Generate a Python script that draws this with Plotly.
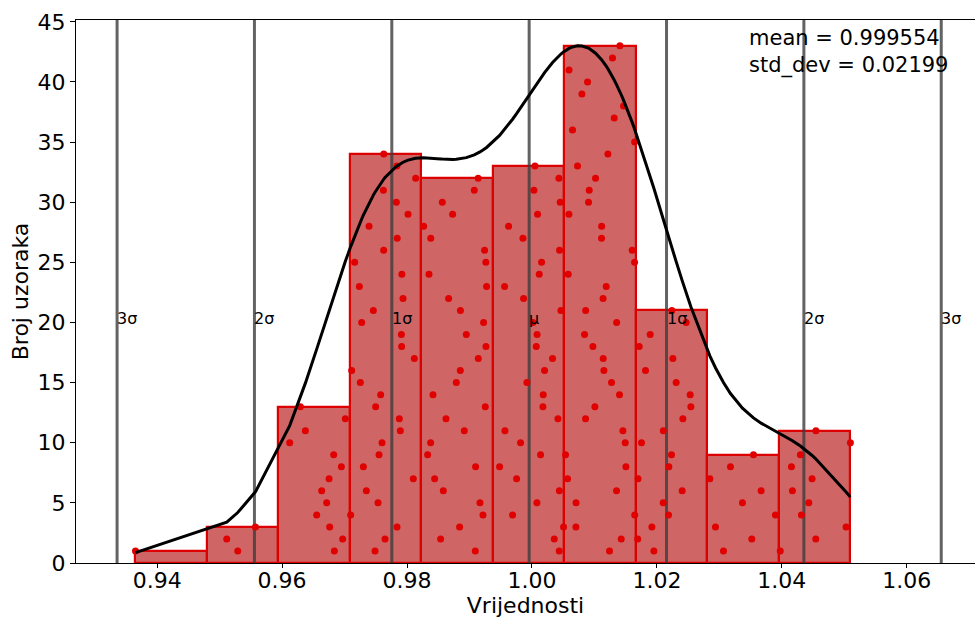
import numpy as np
import plotly.graph_objects as go

# Summary statistics shown on the chart
MEAN = 0.999554
STD_DEV = 0.02199
N_BINS = 10

# Sample values grouped by histogram bin, listed by their dot level (1, 2, 3, ...)
bin01 = [0.93653]
bin02 = [0.95290, 0.95114, 0.95573]
bin03 = [0.96837, 0.96970, 0.96762, 0.96554, 0.96714, 0.96634, 0.96752, 0.96949,
         0.96826, 0.96122, 0.96373, 0.97013, 0.96293]
bin04 = [0.97488, 0.97648, 0.97840, 0.97098, 0.97536, 0.97349, 0.98101, 0.97301,
         0.97552, 0.97600, 0.97893, 0.97877, 0.97498, 0.97578, 0.97253, 0.97114,
         0.98117, 0.97914, 0.97910, 0.97274, 0.97461, 0.97936, 0.97237, 0.97918,
         0.97162, 0.97626, 0.97843, 0.97392, 0.98016, 0.97829, 0.97622, 0.98138,
         0.97838, 0.97628]
bin05 = [0.99093, 0.98538, 0.98842, 0.99216, 0.99168, 0.98581, 0.98442, 0.99098,
         0.98330, 0.98378, 0.98917, 0.98624, 0.99253, 0.98416, 0.98789, 0.98853,
         0.99141, 0.99264, 0.98949, 0.99226, 0.98855, 0.98666, 0.99274, 0.98352,
         0.99262, 0.99242, 0.98380, 0.98266, 0.98730, 0.98565, 0.99077, 0.99139]
bin06 = [1.00437, 1.00357, 1.00506, 0.99690, 1.00080, 1.00439, 0.99754, 0.99482,
         1.00138, 0.99818, 0.99568, 1.00416, 1.00176, 1.00181, 0.99920, 1.00202,
         1.00330, 1.00069, 1.00082, 1.00016, 1.00464, 0.99866, 0.99562, 1.00117,
         1.00154, 1.00442, 0.99856, 0.99626, 1.00090, 1.00453, 1.00032, 1.00432,
         1.00048]
bin07 = [1.01242, 1.01429, 1.00704, 1.01645, 1.00706, 1.01354, 1.00570, 1.01504,
         1.00538, 1.01493, 1.01456, 1.00858, 1.01008, 1.01402, 1.01274, 1.01152,
         1.01141, 1.00976, 1.00842, 1.01356, 1.00860, 1.01139, 1.01189, 1.00581,
         1.01643, 1.01605, 1.01114, 1.01116, 1.00592, 1.00906, 1.00917, 1.01018,
         1.00730, 1.01216, 1.01644, 1.00650, 1.01317, 1.01466, 1.00800, 1.00890,
         1.00594, 1.01290, 1.01408]
bin08 = [1.01952, 1.01693, 1.01920, 1.02186, 1.02101, 1.02405, 1.01698, 1.02192,
         1.02234, 1.01754, 1.02103, 1.02416, 1.02544, 1.02533, 1.02309, 1.01818,
         1.02256, 1.01717, 1.01893, 1.02469, 1.02240]
bin09 = [1.03066, 1.03520, 1.02938, 1.03898, 1.03370, 1.03669, 1.02848, 1.03178,
         1.03546]
bin10 = [1.03975, 1.04544, 1.05029, 1.04314, 1.04432, 1.04170, 1.04485, 1.04154,
         1.04298, 1.05098, 1.04546]

groups = [bin01, bin02, bin03, bin04, bin05, bin06, bin07, bin08, bin09, bin10]

SIGMA_LABELS = ["3σ", "2σ", "1σ", "μ", "1σ", "2σ", "3σ"]
SIGMA_MULTS = [-3, -2, -1, 0, 1, 2, 3]
X_TICKS = [0.94, 0.96, 0.98, 1.00, 1.02, 1.04, 1.06]
Y_TICKS = [0, 5, 10, 15, 20, 25, 30, 35, 40, 45]

# Flatten samples and their dot levels
dot_x, dot_y = [], []
for grp in groups:
    for level, v in enumerate(grp, start=1):
        dot_x.append(v)
        dot_y.append(level)
samples = np.array(dot_x)
n = samples.size

# Histogram
counts, edges = np.histogram(samples, bins=N_BINS)
width = edges[1] - edges[0]
centers = 0.5 * (edges[:-1] + edges[1:])

# Gaussian KDE (Scott's rule), evaluated at the sorted samples,
# rescaled so its peak equals the tallest bin
bw = samples.std(ddof=1) * n ** (-1 / 5)
xs = np.sort(samples)
dens = np.exp(-0.5 * ((xs[:, None] - samples[None, :]) / bw) ** 2).sum(axis=1)
kde_y = dens / dens.max() * counts.max()

FONT = "DejaVu Sans"
FS = 22
fig = go.Figure()

fig.add_trace(go.Bar(
    x=centers, y=counts, width=width,
    marker=dict(color="rgba(200,80,80,0.88)", line=dict(color="#dd0000", width=2.2)),
    showlegend=False, hoverinfo="skip",
))

# Sigma reference lines
y_top = 45.15
for m in SIGMA_MULTS:
    xv = MEAN + m * STD_DEV
    fig.add_trace(go.Scatter(
        x=[xv, xv], y=[0, y_top], mode="lines",
        line=dict(color="rgba(60,60,60,0.8)", width=3),
        showlegend=False, hoverinfo="skip",
    ))

fig.add_trace(go.Scatter(
    x=dot_x, y=dot_y, mode="markers",
    marker=dict(color="#e00000", size=7, line=dict(width=0)),
    showlegend=False, hoverinfo="skip",
))

fig.add_trace(go.Scatter(
    x=xs, y=kde_y, mode="lines",
    line=dict(color="black", width=3),
    showlegend=False, hoverinfo="skip",
))

for m, lab in zip(SIGMA_MULTS, SIGMA_LABELS):
    fig.add_annotation(
        x=MEAN + m * STD_DEV, y=20, text=lab, showarrow=False,
        xanchor="left", yanchor="bottom", yshift=-8, xshift=-2,
        font=dict(family=FONT, size=16, color="black"),
    )

fig.add_annotation(
    x=1.0345, y=42.45, xref="x", yref="y",
    text=f"mean = {MEAN}<br>std_dev = {STD_DEV}",
    showarrow=False, xanchor="left", yanchor="middle", align="left",
    font=dict(family=FONT, size=21, color="black"),
)

fig.update_layout(
    width=975, height=619,
    margin=dict(l=76, r=0, t=20, b=56),
    paper_bgcolor="white", plot_bgcolor="white",
    font=dict(family=FONT, size=FS, color="black"),
    bargap=0,
)
fig.update_xaxes(
    range=[0.927008, 1.070928], tickvals=X_TICKS, tickformat=".2f",
    showgrid=False, zeroline=False,
    showline=True, linecolor="black", linewidth=1, mirror=True,
    ticks="outside", ticklen=4, tickcolor="black",
    ticklabelstandoff=-6,
    title=dict(text="Vrijednosti", font=dict(size=FS), standoff=4),
    tickfont=dict(size=FS),
)
fig.update_yaxes(
    range=[0, y_top], tickvals=Y_TICKS,
    showgrid=False, zeroline=False,
    showline=True, linecolor="black", linewidth=1,
    ticks="outside", ticklen=5, tickcolor="black",
    title=dict(text="Broj uzoraka", font=dict(size=FS), standoff=2),
    tickfont=dict(size=FS),
)

fig.write_html("out.html")
